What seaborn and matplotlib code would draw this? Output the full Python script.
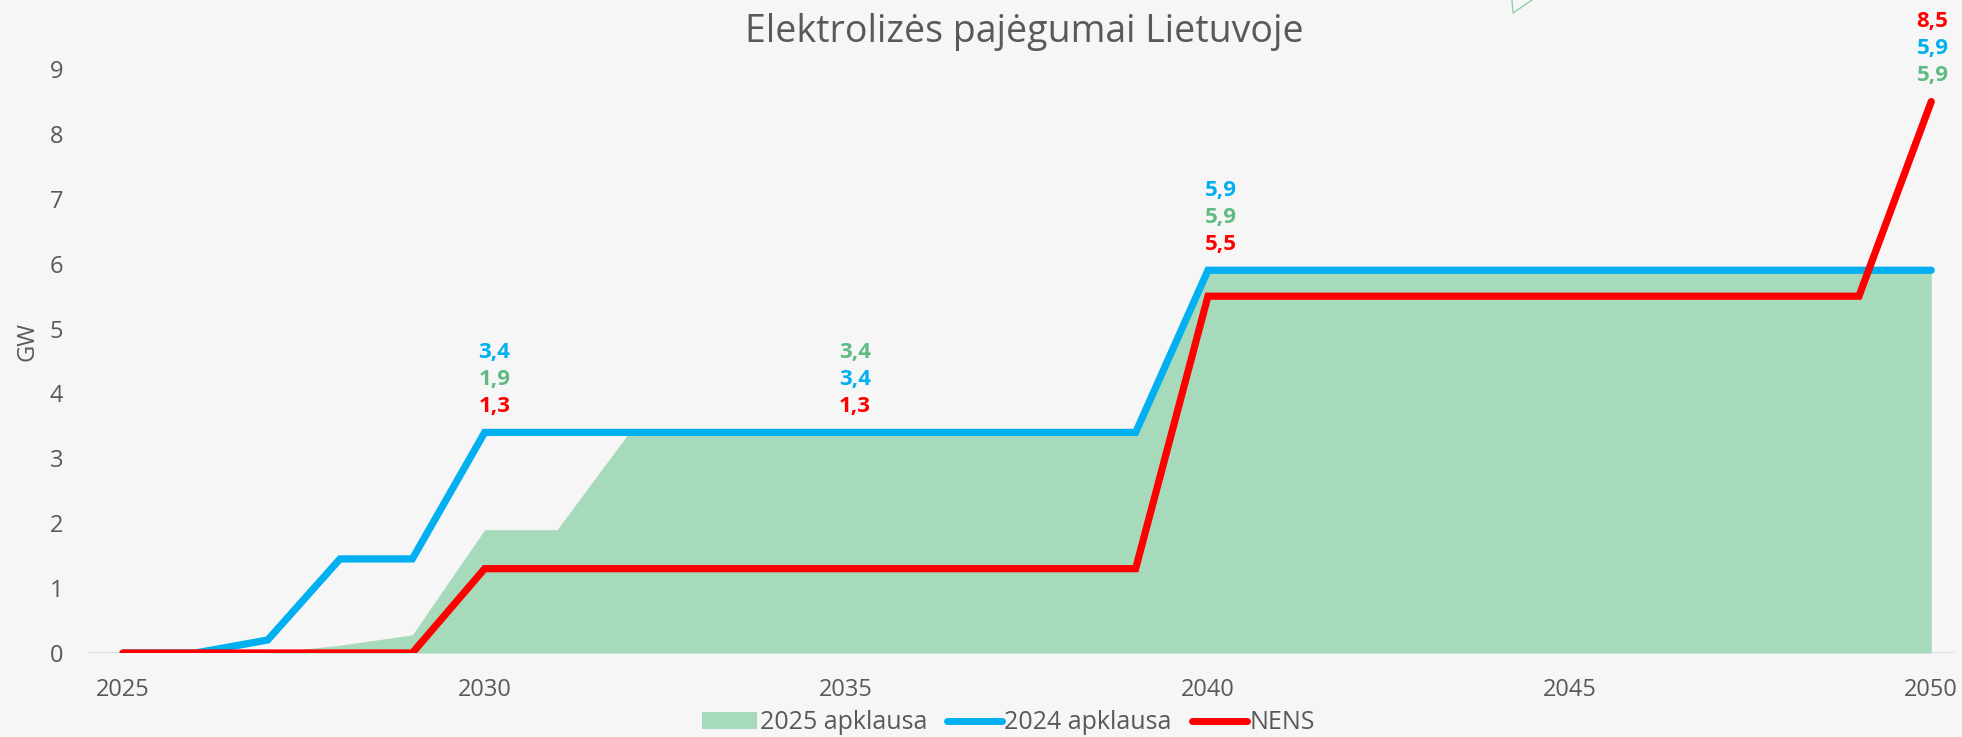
import numpy as np
import pandas as pd
import matplotlib
matplotlib.use('Agg')
import matplotlib.pyplot as plt
import seaborn as sns
from matplotlib.patches import Patch
from matplotlib.lines import Line2D

# Values (GW)
years = list(range(2025, 2051))
survey_2025 = [0, 0, 0, 0.12, 0.28, 1.9, 1.9, 3.4, 3.4, 3.4, 3.4, 3.4, 3.4, 3.4, 3.4,
               5.9, 5.9, 5.9, 5.9, 5.9, 5.9, 5.9, 5.9, 5.9, 5.9, 5.9]
survey_2024 = [0, 0, 0.2, 1.45, 1.45, 3.4, 3.4, 3.4, 3.4, 3.4, 3.4, 3.4, 3.4, 3.4, 3.4,
               5.9, 5.9, 5.9, 5.9, 5.9, 5.9, 5.9, 5.9, 5.9, 5.9, 5.9]
nens = [0, 0, 0, 0, 0, 1.3, 1.3, 1.3, 1.3, 1.3, 1.3, 1.3, 1.3, 1.3, 1.3,
        5.5, 5.5, 5.5, 5.5, 5.5, 5.5, 5.5, 5.5, 5.5, 5.5, 8.5]

series_names = ['2025 apklausa', '2024 apklausa', 'NENS']
label_years = [2030, 2035, 2040, 2050]
# stacking order of the value labels above each year, bottom to top
label_order = {
    2030: ['NENS', '2025 apklausa', '2024 apklausa'],
    2035: ['NENS', '2024 apklausa', '2025 apklausa'],
    2040: ['NENS', '2025 apklausa', '2024 apklausa'],
    2050: ['2025 apklausa', '2024 apklausa', 'NENS'],
}
# horizontal nudge of each label group (points)
label_dx = {2030: 7, 2035: 6, 2040: 9, 2050: 1}

green_fill = '#a6dabb'
green_text = '#5fbb82'
blue = '#00b0f0'
red = '#ff0000'
grey_text = '#595959'
bg = '#f6f6f6'

sns.set_theme(style='white')
plt.rcParams['font.family'] = ['Open Sans', 'DejaVu Sans']

df = pd.DataFrame({'year': years, '2025 apklausa': survey_2025,
                   '2024 apklausa': survey_2024, 'NENS': nens})
lines = df.melt(id_vars='year', value_vars=['2024 apklausa', 'NENS'],
                var_name='series', value_name='GW')

fig = plt.figure(figsize=(19.62, 7.37), dpi=100, facecolor=bg)
ax = fig.add_axes([0.045, 0.114, 0.9515, 0.845])
ax.set_facecolor(bg)

ax.axhline(0, color='#d9d9d9', lw=2, zorder=1)
ax.fill_between(df['year'], 0, df['2025 apklausa'], color=green_fill, lw=0, zorder=2)
sns.lineplot(data=lines, x='year', y='GW', hue='series',
             palette={'2024 apklausa': blue, 'NENS': red},
             linewidth=5.2, legend=False, ax=ax, zorder=3,
             solid_capstyle='round', solid_joinstyle='miter')

ax.set_xlim(2024.52, 2050.33)
ax.set_ylim(0, 9.6)
ax.set_xticks([2025, 2030, 2035, 2040, 2045, 2050])
ax.set_yticks(range(0, 10))
ax.tick_params(axis='both', labelsize=17, colors=grey_text, length=0)
ax.tick_params(axis='x', pad=18)
ax.tick_params(axis='y', pad=18)
ax.set_xlabel('')
ax.set_ylabel('GW', fontsize=17, color=grey_text, labelpad=7)
for s in ax.spines.values():
    s.set_visible(False)

colors = {'2025 apklausa': green_text, '2024 apklausa': blue, 'NENS': red}
for yr in label_years:
    row = df[df['year'] == yr].iloc[0]
    base = max(row[n] for n in series_names)
    for i, name in enumerate(label_order[yr]):
        txt = f"{row[name]:.1f}".replace('.', ',')
        ax.annotate(txt, (yr, base), xytext=(label_dx[yr], 18.5 + i * 19.5),
                    textcoords='offset points', ha='center', va='center',
                    fontsize=16, fontweight='bold', color=colors[name], zorder=5,
                    annotation_clip=False)

fig.text(0.522, 0.957, 'Elektrolizės pajėgumai Lietuvoje', ha='center', va='center',
         fontsize=27, color=grey_text)

# small decorative stroke at the top edge
fig.add_artist(Line2D([1512 / 1962, 1513 / 1962, 1532 / 1962],
                      [1.0, 1 - 13 / 737, 1.0], color='#8fd0a8', lw=1,
                      transform=fig.transFigure))

handles = [Patch(facecolor=green_fill, edgecolor='none'),
           Line2D([], [], color=blue, lw=5, solid_capstyle='round'),
           Line2D([], [], color=red, lw=5, solid_capstyle='round')]
leg = fig.legend(handles, series_names, loc='center', bbox_to_anchor=(0.514, 0.019),
                 ncol=3, frameon=False, fontsize=18, handlelength=2.2,
                 handletextpad=0.1, columnspacing=0.8, borderpad=0)
for t in leg.get_texts():
    t.set_color(grey_text)

fig.savefig('out.png', dpi=100, facecolor=bg)
